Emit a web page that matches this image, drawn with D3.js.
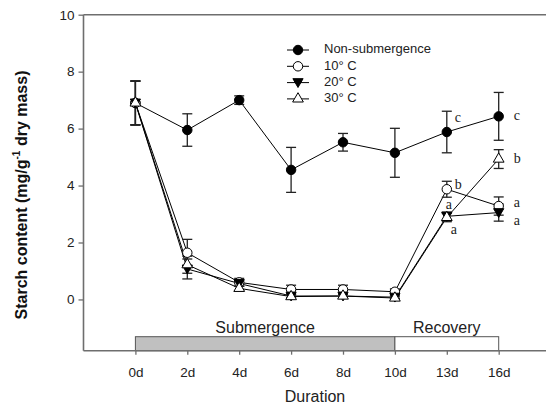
<!DOCTYPE html>
<html><head><meta charset="utf-8">
<script src="https://cdn.jsdelivr.net/npm/d3@7/dist/d3.min.js"></script>
<style>body{margin:0;background:#fff}svg{display:block}</style>
</head><body>
<svg id="c" width="546" height="406"></svg>
<script>
const days = ["0d","2d","4d","6d","8d","10d","13d","16d"];
const yTicks = [0,2,4,6,8,10];
const nonSub   = [6.90, 5.95, 7.00, 4.55, 5.52, 5.15, 5.88, 6.43];
const nonSubE  = [0.77, 0.57, 0.15, 0.79, 0.31, 0.86, 0.73, 0.84];
const t10      = [6.90, 1.64, 0.60, 0.35, 0.35, 0.27, 3.87, 3.28];
const t10E     = [0.77, 0.47, 0.14, 0.15, 0.15, 0.10, 0.28, 0.32];
const t20      = [6.90, 1.07, 0.56, 0.12, 0.12, 0.08, 2.92, 3.05];
const t20E     = [0.77, 0.35, 0.10, 0.06, 0.06, 0.05, 0.15, 0.30];
const t30      = [6.90, 1.22, 0.39, 0.10, 0.12, 0.05, 2.88, 4.93];
const t30E     = [0.77, 0.30, 0.08, 0.05, 0.05, 0.04, 0.15, 0.33];
const seriesNames = ["Non-submergence","10° C","20° C","30° C"];
const letters = [
  {day:6, v:5.88, t:"c", dx:8, dy:-13},
  {day:6, v:3.87, t:"b", dx:8, dy:-3},
  {day:6, v:2.92, t:"a", dx:-1, dy:-11},
  {day:6, v:2.88, t:"a", dx:4, dy:13},
  {day:7, v:6.43, t:"c", dx:15, dy:0},
  {day:7, v:4.93, t:"b", dx:15, dy:1},
  {day:7, v:3.28, t:"a", dx:15, dy:-2},
  {day:7, v:3.05, t:"a", dx:15, dy:9}
];
const phases = [{name:"Submergence", from:0, to:5, fill:"#c0c0c0"},{name:"Recovery", from:5, to:7, fill:"#ffffff"}];

const svg = d3.select("#c");
const x = d3.scaleLinear().domain([-1, 8]).range([83.5, 83.5 + 9*51.9]);
const y = d3.scaleLinear().domain([-1.8, 10]).range([350.7, 14.7]);
const axisColor = "#6e6e6e";
const xEnd = 546;

// frame top
svg.append("line").attr("x1", x(-1)).attr("x2", xEnd).attr("y1", y(10)).attr("y2", y(10))
  .attr("stroke", axisColor).attr("stroke-width", 1.6);

// phase bars
const barH = 14;
svg.selectAll("rect.phase").data(phases).join("rect")
  .attr("x", d => x(d.from)).attr("width", d => x(d.to) - x(d.from))
  .attr("y", y(-1.8) - barH).attr("height", barH)
  .attr("fill", d => d.fill).attr("stroke", "#555").attr("stroke-width", 1);
svg.selectAll("text.phase").data(phases).join("text")
  .attr("x", d => (x(d.from) + x(d.to)) / 2).attr("y", y(-1.8) - barH - 4)
  .attr("text-anchor", "middle").attr("font-family", "Liberation Sans, Arial, sans-serif")
  .attr("font-size", 16).attr("fill", "#222").text(d => d.name);

// axes
const ay = svg.append("g").attr("transform", `translate(${x(-1)},0)`)
  .call(d3.axisLeft(y).tickValues(yTicks).tickSize(5).tickSizeOuter(0).tickPadding(4));
const ax = svg.append("g").attr("transform", `translate(0,${y(-1.8)})`)
  .call(d3.axisBottom(x).tickValues(d3.range(days.length)).tickFormat(i => days[i]).tickSize(4).tickSizeOuter(0).tickPadding(13));
[ay, ax].forEach(g => {
  g.select(".domain").attr("stroke", axisColor).attr("stroke-width", 1.6);
  g.selectAll(".tick line").attr("stroke", axisColor).attr("stroke-width", 1.3);
  g.selectAll(".tick text").attr("font-family", "Liberation Sans, Arial, sans-serif").attr("font-size", 13.5).attr("fill", "#222");
});
ax.select(".domain").attr("d", `M${x(-1)},0H${xEnd}`);
ay.select(".domain").attr("d", `M0,${y(-1.8)}V${y(10)}`);

// axis titles
svg.append("text").attr("x", 315).attr("y", 402).attr("text-anchor", "middle")
  .attr("font-family", "Liberation Sans, Arial, sans-serif").attr("font-size", 16).attr("fill", "#222").text("Duration");
const yt = svg.append("text").attr("transform", "translate(27,195) rotate(-90)").attr("text-anchor", "middle")
  .attr("font-family", "Liberation Sans, Arial, sans-serif").attr("font-size", 16).attr("font-weight", "bold").attr("fill", "#111");
yt.append("tspan").text("Starch content (mg/g");
yt.append("tspan").attr("font-size", 10).attr("dy", -7).text("-1");
yt.append("tspan").attr("dy", 7).text(" dry mass)");

// series
const series = [
  {vals: nonSub, err: nonSubE, sym: d3.symbolCircle, size: 70, fill: "#000"},
  {vals: t10, err: t10E, sym: d3.symbolCircle, size: 70, fill: "#fff"},
  {vals: t20, err: t20E, sym: d3.symbolTriangle, size: 45, fill: "#000", rot: 180},
  {vals: t30, err: t30E, sym: d3.symbolTriangle, size: 50, fill: "#fff"}
];
const line = d3.line().x((d, i) => x(i)).y(d => y(d));
series.forEach(s => {
  svg.append("path").attr("d", line(s.vals)).attr("fill", "none").attr("stroke", "#000").attr("stroke-width", 1);
});
series.forEach(s => {
  const g = svg.append("g");
  s.vals.forEach((v, i) => {
    const e = s.err[i], cx = x(i);
    g.append("line").attr("x1", cx).attr("x2", cx).attr("y1", y(v + e)).attr("y2", y(v - e)).attr("stroke", "#222").attr("stroke-width", 1.3);
    [v + e, v - e].forEach(w => g.append("line").attr("x1", cx - 5).attr("x2", cx + 5).attr("y1", y(w)).attr("y2", y(w)).attr("stroke", "#222").attr("stroke-width", 1.3));
  });
});
series.forEach(s => {
  svg.append("g").selectAll("path").data(s.vals).join("path")
    .attr("d", d3.symbol().type(s.sym).size(s.size))
    .attr("transform", (d, i) => `translate(${x(i)},${y(d) + (s.rot ? -1 : 0)})${s.rot ? " rotate(180)" : ""}`)
    .attr("fill", s.fill).attr("stroke", "#000").attr("stroke-width", 1);
});

// letters
svg.selectAll("text.let").data(letters).join("text")
  .attr("x", d => x(d.day) + d.dx).attr("y", d => y(d.v) + d.dy)
  .attr("dominant-baseline", "middle")
  .attr("font-family", "Liberation Serif, Times New Roman, serif").attr("font-size", 14).attr("fill", "#222").text(d => d.t);

// legend
const lg = svg.append("g");
series.forEach((s, i) => {
  const ly = 50 + i * 16.3;
  lg.append("line").attr("x1", 287).attr("x2", 309).attr("y1", ly).attr("y2", ly).attr("stroke", "#000");
  lg.append("path").attr("d", d3.symbol().type(s.sym).size(s.size))
    .attr("transform", `translate(298,${ly + (s.rot ? -1 : 0)})${s.rot ? " rotate(180)" : ""}`)
    .attr("fill", s.fill).attr("stroke", "#000");
  lg.append("text").attr("x", 324).attr("y", ly).attr("dominant-baseline", "middle")
    .attr("font-family", "Liberation Sans, Arial, sans-serif").attr("font-size", 13).attr("fill", "#222").text(seriesNames[i]);
});
</script>
</body></html>
